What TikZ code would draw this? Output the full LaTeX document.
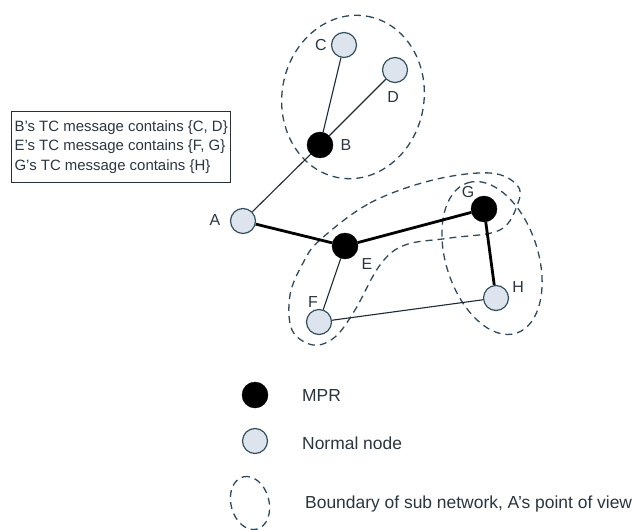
\documentclass[tikz,border=0pt]{standalone}
\usepackage{fontspec}
\setmainfont{Liberation Sans}
\definecolor{txt}{HTML}{2A3540}
\definecolor{nodefill}{HTML}{DDE4EE}
\definecolor{nodeedge}{HTML}{34505F}
\definecolor{dashc}{HTML}{2F4A5A}
\definecolor{linkc}{HTML}{1E2A33}
\definecolor{boxc}{HTML}{2A2F35}
\begin{document}
\begin{tikzpicture}[x=1bp,y=-1bp,
  normal/.style={circle,draw=nodeedge,fill=nodefill,line width=1.2bp,minimum size=25bp,inner sep=0pt},
  mpr/.style={circle,fill=black,draw=black,minimum size=26bp,inner sep=0pt},
  lbl/.style={text=txt,font=\fontsize{16}{16}\selectfont,inner sep=0pt},
  legtext/.style={text=txt,font=\fontsize{17.5}{17.5}\selectfont,inner sep=0pt,anchor=west},
  link/.style={line width=1.1bp,draw=linkc},
  trunk/.style={line width=2.8bp,draw=black},
  bound/.style={dash pattern=on 7bp off 5bp,line width=1.3bp,draw=dashc}]
\useasboundingbox (0,0) rectangle (642,530);

% sub network boundaries
\draw[bound,rotate around={80:(353,97)}] (353,97) ellipse [x radius=82, y radius=71];
\draw[bound,rotate around={108:(492,258)}] (492,258) ellipse [x radius=79, y radius=46];
\draw[bound] plot[smooth cycle,tension=0.6] coordinates {
  (320,240) (370,203) (433,180) (490,173) (517,185) (518,203) (500,230)
  (450,238) (405,245) (380,265) (355,310) (335,337) (313,345) (292,330)
  (290,295) (303,263)};

% nodes
\node[normal] (C) at (344,45) {};
\node[normal] (D) at (395,70) {};
\node[mpr]    (B) at (320,145) {};
\node[normal] (A) at (243,221) {};
\node[mpr]    (E) at (345,246) {};
\node[mpr]    (G) at (484,209) {};
\node[normal] (H) at (496,298) {};
\node[normal] (F) at (319,322) {};

% labels
\node[lbl] (lC) at (321,45) {C};
\node[lbl] (lD) at (393,97) {D};
\node[lbl] (lB) at (346,145) {B};
\node[lbl] (lA) at (215,220) {A};
\node[lbl] (lE) at (367,264) {E};
\node[lbl] (lF) at (313,302) {F};
\node[lbl] (lG) at (468,192) {G};
\node[lbl] (lH) at (518,287) {H};

% links
\draw[link] (C) -- (B);
\draw[link] (D) -- (B);
\draw[link] (B) -- (A);
\draw[link] (E) -- (F);
\draw[link] (F) -- (H);
\draw[trunk] (A) -- (E);
\draw[trunk] (E) -- (G);
\draw[trunk] (G) -- (H);

% TC message box
\node[draw=boxc,line width=1.2bp,anchor=north west,align=left,text=txt,
  font=\fontsize{15}{19.5}\selectfont,inner xsep=3bp,inner ysep=5bp,
  minimum height=71bp] (tc) at (11,111)
  {B's TC message contains \{C, D\}\\E's TC message contains \{F, G\}\\G's TC message contains \{H\}};

% legend
\node[mpr] (kmpr) at (255,395) {};
\node[legtext] (tmpr) at (302,395) {MPR};
\node[normal] (knorm) at (255,441) {};
\node[legtext] (tnorm) at (302,443) {Normal node};
\draw[bound,rotate around={105:(250,503)}] (250,503) ellipse [x radius=27, y radius=19];
\node[legtext] (tbound) at (305,504) {Boundary of sub network, A's point of view};
\end{tikzpicture}
\end{document}
